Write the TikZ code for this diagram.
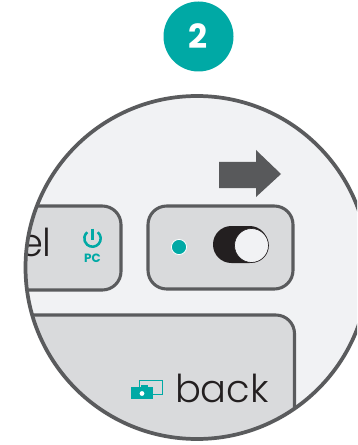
\documentclass[tikz,border=0pt]{standalone}
\usepackage{fontspec}
\setmainfont{Poppins}
\newfontfamily\lightf{Poppins Light}
\newfontfamily\boldf{Poppins Bold}
\definecolor{teal1}{HTML}{00A9A5}
\definecolor{greyline}{HTML}{5A5B5D}
\definecolor{keyfill}{HTML}{D9DADC}
\definecolor{bgf}{HTML}{F1F2F4}
\definecolor{arrowc}{HTML}{58595B}
\definecolor{blackc}{HTML}{231F20}
\tikzset{
  keybox/.style={draw=greyline,fill=keyfill,line width=2.3pt,rounded corners=14pt},
  keylabel/.style={inner sep=0pt,outer sep=0pt,anchor=base west,text=blackc,font=\lightf\fontsize{28.8}{28.8}\selectfont}
}
\begin{document}
\begin{tikzpicture}[x=0.75pt,y=-0.75pt]
\useasboundingbox (0,0) rectangle (357,445);
\fill[white] (0,0) rectangle (357,445);
% badge
\fill[teal1] (198.5,36.5) circle (35);
\node[text=white,inner sep=0pt,font=\boldf\fontsize{25}{25}\selectfont] (badge) at (198.5,36.5) {2};
% lens
\begin{scope}
\clip (0,0) rectangle (357,445);
\fill[bgf] (197,267.5) circle (171.5);
\begin{scope}
\clip (197,267.5) circle (171.5);
\draw[keybox] (-20,206) rectangle (121,290);
\draw[keybox] (-20,315) rectangle (294.5,480);
\node[keylabel] (el) at (19,256) {el};
\node[keylabel] (back) at (175,402) {back};
\end{scope}
\draw[greyline,line width=2.8pt] (197,267.5) circle (171.5);
\end{scope}
% switch key
\draw[keybox] (148,206) rectangle (293,289);
\fill[teal1,draw=white,line width=0.6pt] (179,247) circle (7.6);
\fill[blackc,rounded corners=13.8pt] (213,226) rectangle (268,263);
\fill[bgf,draw=blackc,line width=0.5pt] (251.5,245.5) circle (17);
% arrow
\fill[arrowc] (219,162) -- (256,162) -- (256,150) -- (281,174) -- (256,197) -- (256,188) -- (219,188) -- cycle;
% power icon
\draw[teal1,line width=1.9pt] (92.5,238.5) ++(-50:8.2) arc[start angle=-50,end angle=230,radius=8.2];
\draw[teal1,line width=1.9pt] (92.5,228.5) -- (92.5,240);
\node[text=teal1,inner sep=0pt,font=\boldf\fontsize{9}{9}\selectfont] (pc) at (92.5,258) {PC};
% camera icon
\draw[teal1,line width=0.6pt,fill=keyfill] (139,380) rectangle (162,394);
\fill[teal1] (131,387) rectangle (153,399);
\fill[teal1] (141,385) rectangle (148,388);
\fill[white] (142,393.5) circle (2.4);
\end{tikzpicture}
\end{document}
